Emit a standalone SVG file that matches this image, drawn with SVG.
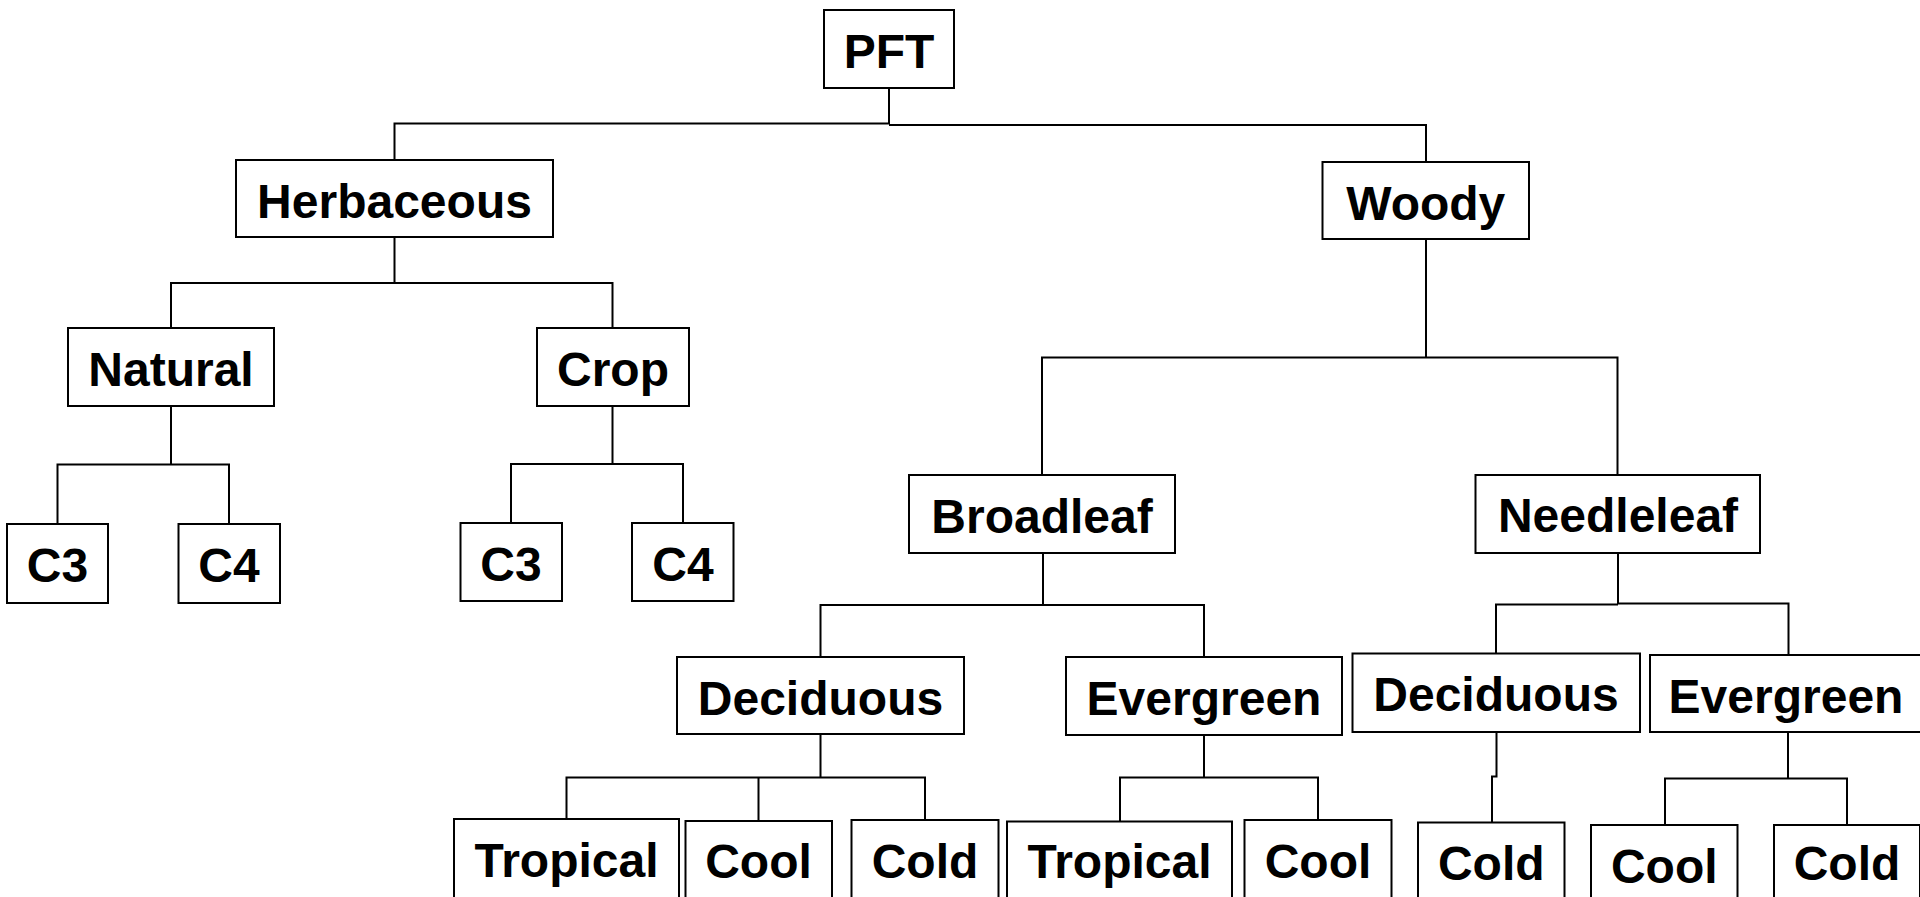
<svg xmlns="http://www.w3.org/2000/svg" width="1920" height="897" viewBox="0 0 1920 897">
<style>
.box{fill:#fff;stroke:#000;stroke-width:2}
.lbl{font-family:"Liberation Sans",Arial,sans-serif;font-weight:bold;font-size:48px;fill:#000;text-anchor:middle}
.con{fill:none;stroke:#000;stroke-width:2}
</style>
<rect width="1920" height="897" fill="#fff"/>
<g id="connectors">
<path class="con" d="M889,88 V124 M394.5,160 V123.5 H889 M889,125 H1426 V162"/>
<path class="con" d="M394.5,237 V283 M171,328 V283 H612.5 V328"/>
<path class="con" d="M171,406 V464.5 M57.5,524 V464.5 H229 V524"/>
<path class="con" d="M612.5,406 V464 M511,523 V464 H683 V523"/>
<path class="con" d="M1426,239 V357.5 M1042,475 V357.5 H1617.5 V475"/>
<path class="con" d="M1043,553 V605 M820.5,657 V605 H1204 V657"/>
<path class="con" d="M1618,553 V604 M1496,653.5 V604.5 H1618 M1618,603.5 H1788.5 V655"/>
<path class="con" d="M820.5,734 V777.5 M566.5,819 V777.5 H925 V820 M758.5,777.5 V821"/>
<path class="con" d="M1204,735 V777.5 M1120,821.5 V777.5 H1318 V820"/>
<path class="con" d="M1496.5,732 V776.5 H1492 V822.5"/>
<path class="con" d="M1788,732 V778 M1665,825 V778.5 H1847 V825"/>
</g>
<g id="n-pft"><rect class="box" x="824" y="10" width="130" height="78"/><text class="lbl" x="889" y="68">PFT</text></g>
<g id="n-herbaceous"><rect class="box" x="236" y="160" width="317" height="77"/><text class="lbl" x="394.5" y="218">Herbaceous</text></g>
<g id="n-woody"><rect class="box" x="1322.5" y="162" width="206.5" height="77"/><text class="lbl" x="1425.75" y="220">Woody</text></g>
<g id="n-natural"><rect class="box" x="68" y="328" width="206" height="78"/><text class="lbl" x="171" y="386">Natural</text></g>
<g id="n-crop"><rect class="box" x="537" y="328" width="152" height="78"/><text class="lbl" x="613" y="386">Crop</text></g>
<g id="n-nat-c3"><rect class="box" x="7" y="524" width="101" height="79"/><text class="lbl" x="57.5" y="582">C3</text></g>
<g id="n-nat-c4"><rect class="box" x="178.5" y="524" width="101.5" height="79"/><text class="lbl" x="229" y="582">C4</text></g>
<g id="n-crop-c3"><rect class="box" x="460.5" y="523" width="101.5" height="78"/><text class="lbl" x="511" y="581">C3</text></g>
<g id="n-crop-c4"><rect class="box" x="632" y="523" width="101.5" height="78"/><text class="lbl" x="683" y="581">C4</text></g>
<g id="n-broadleaf"><rect class="box" x="909" y="475" width="266" height="78"/><text class="lbl" x="1042" y="533">Broadleaf</text></g>
<g id="n-needleleaf"><rect class="box" x="1475.5" y="475" width="284.5" height="78"/><text class="lbl" x="1618" y="532">Needleleaf</text></g>
<g id="n-bl-deciduous"><rect class="box" x="677" y="657" width="287" height="77"/><text class="lbl" x="820.5" y="715">Deciduous</text></g>
<g id="n-bl-evergreen"><rect class="box" x="1066" y="657" width="276" height="78"/><text class="lbl" x="1204" y="715">Evergreen</text></g>
<g id="n-nl-deciduous"><rect class="box" x="1352.5" y="653.5" width="287.5" height="78.5"/><text class="lbl" x="1496" y="711">Deciduous</text></g>
<g id="n-nl-evergreen"><rect class="box" x="1650" y="655" width="276" height="77"/><text class="lbl" x="1786" y="713">Evergreen</text></g>
<g id="n-bld-tropical"><rect class="box" x="454" y="819" width="225" height="80"/><text class="lbl" x="566.5" y="877">Tropical</text></g>
<g id="n-bld-cool"><rect class="box" x="685.5" y="821" width="146.5" height="80"/><text class="lbl" x="758.5" y="878">Cool</text></g>
<g id="n-bld-cold"><rect class="box" x="851.5" y="820" width="147" height="80"/><text class="lbl" x="925" y="878">Cold</text></g>
<g id="n-ble-tropical"><rect class="box" x="1007" y="821.5" width="225" height="80"/><text class="lbl" x="1119.5" y="878">Tropical</text></g>
<g id="n-ble-cool"><rect class="box" x="1244.5" y="820" width="147" height="80"/><text class="lbl" x="1318" y="878">Cool</text></g>
<g id="n-nld-cold"><rect class="box" x="1418" y="822.5" width="146.5" height="80"/><text class="lbl" x="1491.25" y="880">Cold</text></g>
<g id="n-nle-cool"><rect class="box" x="1591" y="825" width="146.5" height="80"/><text class="lbl" x="1664.25" y="883">Cool</text></g>
<g id="n-nle-cold"><rect class="box" x="1774" y="825" width="146" height="80"/><text class="lbl" x="1847" y="880">Cold</text></g>
</svg>
